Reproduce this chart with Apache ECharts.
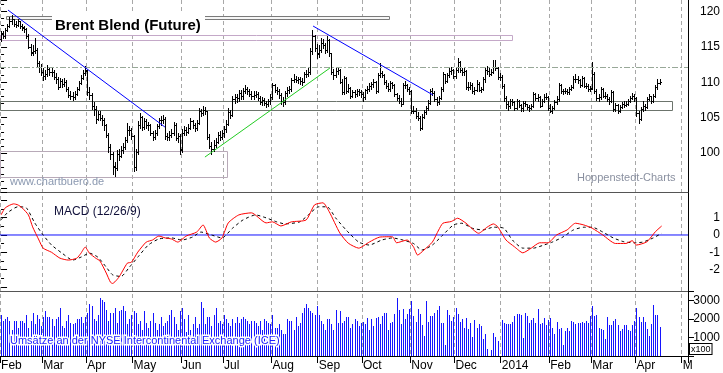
<!DOCTYPE html>
<html><head><meta charset="utf-8">
<script src="https://cdn.jsdelivr.net/npm/echarts@6/dist/echarts.min.js"></script>
<style>html,body{margin:0;padding:0;background:#fff}#c{width:723px;height:373px}</style>
</head><body><div id="c"></div>
<script>
// ---------- axis categories ----------
const startDay = '2013-02-01';
const endDay = '2014-05-05';
const monthTickLabels = ['Feb','Mar','Apr','May','Jun','Jul','Aug','Sep','Oct','Nov','Dec','2014','Feb','Mar','Apr','M'];

// ---------- price (OHLC) ----------
const open = [
116.1,116.9,116.5,117.4,117.9,118.6,118.9,118.3,118.1,118.6,117.9,117.8,117.5,116.6,115.0,114.3,114.4,114.6,112.7,112.1,
111.4,110.9,111.2,111.9,111.4,111.5,110.8,110.4,109.4,110.2,109.8,110.0,109.0,108.2,108.0,107.9,108.3,109.0,109.9,110.6,111.3,
111.6,108.6,108.2,106.6,106.2,104.8,105.5,105.0,104.6,103.9,102.5,100.8,99.8,98.1,97.9,99.9,99.6,100.4,100.8,101.8,103.3,103.2,
102.4,98.0,100.2,104.0,105.1,103.7,104.5,103.9,103.9,102.8,102.3,102.8,103.8,104.6,104.6,104.8,102.4,102.3,102.6,102.8,103.9,102.1,102.4,
100.5,102.8,103.2,103.0,103.6,104.5,103.9,103.5,104.3,105.9,105.6,106.1,105.9,102.3,101.0,100.6,101.2,101.6,102.6,102.3,
102.9,103.4,104.1,105.8,105.4,107.6,107.9,107.8,108.5,108.0,108.8,109.0,108.7,108.4,108.1,108.2,108.4,107.8,107.2,107.5,107.1,106.9,107.3,
107.9,109.6,108.9,108.7,108.2,107.3,107.2,108.5,108.9,109.0,110.3,110.5,110.3,110.4,110.2,110.1,111.2,111.1,111.5,114.4,116.6,114.9,
114.0,114.6,115.6,115.2,114.5,116.0,114.1,111.5,111.0,111.6,111.7,110.1,108.6,110.6,108.8,109.2,108.1,108.6,108.3,108.7,108.6,
108.4,107.9,108.9,109.1,109.5,109.7,110.1,108.8,111.0,111.3,111.0,110.0,109.5,109.0,109.9,109.6,108.3,107.8,107.3,107.0,109.6,109.6,109.0,
108.7,106.0,106.0,105.3,104.9,103.6,105.1,105.8,106.3,107.1,108.8,108.5,107.7,107.2,107.8,109.0,111.1,110.2,111.0,111.6,111.7,
110.9,111.8,112.8,111.7,111.4,111.6,109.4,109.4,109.6,108.7,108.9,109.8,108.9,109.0,110.4,111.7,111.6,111.2,111.5,112.2,112.0,110.7,
110.8,109.5,107.8,106.9,106.7,107.4,107.2,106.4,107.3,106.8,106.3,107.1,106.9,106.5,106.4,106.7,108.3,107.8,107.9,106.7,107.4,107.9,107.9,
106.4,106.0,106.4,107.2,107.6,109.6,108.7,108.7,108.8,108.6,109.1,109.3,110.5,110.5,110.3,109.6,110.6,109.5,109.5,109.0,
109.2,111.2,108.8,107.8,107.9,109.0,108.1,108.1,107.6,107.4,108.6,106.2,106.8,105.9,106.5,106.9,106.8,107.0,107.4,107.8,108.1,
107.8,105.6,104.8,106.2,106.7,106.5,107.7,108.0,107.3,108.1,109.3,109.9
];
const high = [
117.2,117.3,117.7,118.3,119.2,119.5,119.0,118.7,119.0,118.7,118.3,118.0,117.7,116.8,115.4,115.2,116.2,114.8,113.0,112.6,
112.0,111.8,112.4,112.2,112.1,111.7,111.3,110.7,110.6,110.5,110.6,110.3,109.3,108.7,108.6,108.8,109.4,110.2,111.0,111.7,112.3,
111.8,109.3,108.5,107.2,106.6,106.0,105.9,105.4,104.9,104.1,102.8,101.3,100.1,98.7,100.4,100.6,101.0,101.4,102.3,104.2,103.8,103.5,
102.6,100.6,104.5,105.7,105.3,104.9,104.8,104.4,104.1,103.1,103.2,104.1,104.9,105.2,105.4,105.1,102.9,103.1,103.4,104.4,104.2,102.8,102.7,
103.4,103.8,103.7,104.1,104.9,104.7,104.2,104.7,106.3,106.2,106.6,106.5,106.0,102.7,101.6,101.8,102.1,103.0,103.1,103.3,
103.8,104.6,106.4,106.1,108.1,108.4,108.3,108.9,108.9,109.2,109.6,109.4,109.0,108.7,108.7,108.8,108.6,108.1,107.9,107.8,107.4,107.7,108.3,
109.9,109.8,109.3,109.0,108.5,107.9,108.8,109.3,109.5,110.6,111.1,110.9,110.8,110.7,110.6,111.5,111.7,112.1,114.9,117.4,116.7,115.4,
115.2,116.2,116.1,115.6,116.5,116.1,114.2,111.9,112.1,112.2,111.9,110.4,110.9,110.8,109.7,109.3,108.9,108.9,109.1,109.0,108.9,
108.6,109.1,109.5,109.9,110.1,110.5,110.2,111.3,112.7,111.6,111.2,110.3,109.9,110.2,110.1,109.8,108.5,108.2,107.8,109.9,110.2,109.8,109.3,
108.9,106.6,106.4,105.8,105.2,105.5,106.1,106.7,107.5,109.1,109.2,108.7,107.9,108.1,109.3,111.4,111.2,111.3,112.0,112.2,111.9,
112.1,113.5,113.0,112.0,112.0,111.8,110.0,110.1,109.9,109.3,110.3,110.1,109.4,110.8,112.0,112.3,112.0,111.9,113.2,113.1,112.2,111.3,
111.0,109.8,108.1,107.4,107.7,107.6,107.4,107.6,107.5,107.0,107.4,107.4,107.0,106.8,107.0,108.6,108.5,108.4,108.0,107.7,108.3,108.5,108.0,
106.9,106.7,107.5,108.0,109.9,109.8,109.1,109.2,109.1,109.4,109.6,110.9,111.2,110.9,110.5,110.9,110.7,109.9,109.8,109.5,
112.8,111.4,109.1,108.4,109.4,109.2,108.6,108.3,107.9,108.9,108.7,107.1,106.9,106.8,107.2,107.3,107.4,107.6,108.1,108.5,108.3,
107.9,106.0,106.5,107.3,107.0,107.9,108.3,108.1,108.4,109.6,110.5,110.4
];
const low = [
115.9,116.2,116.3,117.2,117.8,118.3,118.0,117.8,117.9,117.7,117.4,117.1,116.3,114.8,113.9,113.8,114.2,112.2,111.5,111.0,
110.3,110.4,110.9,111.0,110.9,110.5,109.9,109.0,109.3,109.4,109.5,108.8,107.9,107.6,107.5,107.7,108.2,108.9,109.7,110.4,111.0,
108.2,107.6,106.2,105.4,104.3,104.6,104.6,104.0,103.3,102.3,100.2,99.1,97.1,96.8,97.6,99.0,99.4,100.0,100.6,101.5,102.5,102.0,
97.4,97.6,99.9,103.6,103.2,103.4,103.6,103.3,102.5,101.9,102.0,102.5,103.5,104.0,104.2,102.0,101.8,101.9,102.3,102.5,101.8,101.6,99.9,
100.2,102.5,102.6,102.8,103.4,103.6,103.1,103.3,104.1,105.2,105.4,105.5,102.0,100.7,99.8,100.3,100.9,101.4,101.9,102.0,
102.3,103.0,103.9,104.9,105.2,107.1,107.2,107.4,107.6,107.7,108.5,108.3,108.1,107.7,107.6,107.9,107.5,106.9,106.8,106.8,106.5,106.6,107.0,
107.6,108.6,108.3,107.8,106.9,106.6,107.0,108.1,108.5,108.8,110.0,110.0,109.9,109.8,109.6,110.0,110.7,110.9,111.2,114.0,114.4,113.4,
113.6,114.3,114.8,114.2,114.3,113.7,111.2,110.5,110.8,111.2,109.9,108.3,108.4,108.5,108.6,107.8,107.9,107.9,108.1,108.2,107.9,
107.3,107.6,108.5,108.8,109.1,109.4,108.5,108.6,110.7,110.7,109.7,109.2,108.7,108.8,109.2,108.1,107.5,107.1,106.6,106.9,109.2,108.7,108.3,
105.6,105.6,104.9,104.6,103.2,103.4,104.9,105.5,106.1,107.0,108.2,107.3,106.8,107.0,107.7,108.8,109.9,110.1,110.8,111.2,110.6,
110.6,111.5,111.4,111.0,111.0,109.1,108.9,109.1,108.5,108.4,108.7,108.7,108.6,108.9,110.1,111.2,110.9,111.0,111.3,111.7,110.5,110.3,
109.2,107.4,106.4,106.1,106.4,106.8,106.1,106.2,106.5,105.9,106.0,106.6,106.2,106.0,106.2,106.5,107.5,107.4,106.5,106.6,107.2,107.6,106.1,
105.8,105.7,106.2,107.0,107.4,108.5,108.4,108.5,108.3,108.4,108.9,109.2,110.1,109.9,109.4,109.5,109.3,109.2,108.7,108.7,
109.0,108.5,107.5,107.4,107.7,107.9,107.8,107.3,107.0,107.2,106.0,106.0,105.6,105.8,106.3,106.5,106.6,106.8,107.2,107.6,107.4,
105.3,104.3,104.7,106.0,106.1,106.3,107.5,107.1,107.2,107.9,109.0,109.7
];
const close = [
116.8,116.6,117.4,117.9,118.7,118.9,118.2,118.1,118.6,117.9,117.7,117.5,116.6,115.0,114.2,114.4,114.6,112.7,112.1,111.4,
110.9,111.2,111.9,111.4,111.5,110.8,110.4,109.4,110.2,109.8,110.0,109.0,108.2,108.0,107.9,108.3,109.0,109.9,110.6,111.3,111.8,
108.6,108.2,106.6,106.2,104.8,105.5,105.0,104.6,103.9,102.6,100.8,99.8,98.0,97.9,99.9,99.6,100.4,100.8,101.8,103.3,103.2,102.4,
98.0,100.2,104.0,105.1,103.7,104.5,103.9,103.9,102.8,102.3,102.8,103.8,104.6,104.6,104.8,102.4,102.3,102.6,102.8,103.9,102.1,102.4,100.4,
102.8,103.2,103.0,103.6,104.5,103.9,103.5,104.3,105.9,105.6,106.1,105.9,102.3,101.0,100.6,101.2,101.6,102.6,102.3,102.9,
103.4,104.1,105.8,105.4,107.6,107.9,107.8,108.5,108.0,108.8,109.0,108.7,108.4,108.1,108.2,108.4,107.8,107.2,107.5,107.1,106.9,107.3,107.9,
109.6,108.9,108.7,108.2,107.3,107.2,108.5,108.9,109.0,110.3,110.5,110.3,110.4,110.2,110.1,111.2,111.1,111.5,114.4,116.6,114.9,114.1,
114.6,115.6,115.2,114.5,116.0,114.1,111.5,111.0,111.6,111.7,110.1,108.6,110.6,108.8,109.2,108.1,108.6,108.3,108.7,108.6,108.4,
107.9,108.9,109.1,109.5,109.7,110.1,108.8,111.0,111.3,111.0,110.0,109.5,109.0,109.9,109.6,108.3,107.8,107.3,107.0,109.6,109.6,109.0,108.8,
106.0,106.0,105.3,104.9,103.6,105.1,105.8,106.3,107.1,108.8,108.5,107.7,107.2,107.8,109.0,111.1,110.2,111.0,111.6,111.7,110.9,
111.8,112.8,111.7,111.4,111.6,109.4,109.4,109.6,108.7,108.9,109.8,108.9,109.0,110.4,111.7,111.6,111.2,111.5,112.2,112.0,110.7,110.8,
109.5,107.8,106.9,106.7,107.4,107.2,106.4,107.3,106.8,106.3,107.1,106.9,106.5,106.4,106.7,108.3,107.8,107.9,106.7,107.4,107.9,107.9,106.4,
106.0,106.4,107.2,107.6,109.6,108.7,108.7,108.8,108.6,109.1,109.3,110.5,110.5,110.3,109.6,110.6,109.5,109.5,109.0,109.1,
111.2,108.8,107.8,107.9,109.0,108.1,108.1,107.6,107.4,108.6,106.2,106.8,105.9,106.5,106.9,106.8,107.0,107.4,107.8,108.1,107.8,
105.6,104.8,106.2,106.7,106.5,107.7,108.0,107.3,108.1,109.3,109.9,110.1
];

// ---------- volume (x100) ----------
const volume = [
2200,1900,2000,2100,1900,1400,1900,1900,1500,1900,1900,1800,2200,1500,1900,2300,1700,2200,2000,1600,
2100,2400,2100,2100,2000,1600,2000,2100,2600,1600,1500,1900,2200,1800,1700,1800,2000,2000,2100,1800,2100,
2300,2800,2700,2000,1900,2200,3100,3000,2900,2500,1900,2300,2300,2600,1800,2400,2500,2700,2400,1700,2000,2200,
2400,2300,1700,1900,1400,2400,1800,1500,1900,2300,1800,1400,1700,2100,1600,1800,1900,2200,2500,2100,1700,1400,2400,
2600,2000,1300,2200,1400,1700,2100,1500,1700,2900,2600,1700,2100,2100,1600,2200,2600,1800,1900,1700,
2200,2000,1800,1600,2000,1800,2100,1800,2000,2100,2000,1900,1700,1900,1900,1800,1600,1900,1400,2000,1900,1800,1700,
2200,1500,1500,1700,1400,1200,1200,2000,1900,1900,1400,2100,1600,1800,2300,2600,2800,2600,2400,2300,2200,2700,
2200,1900,1700,1400,2000,2000,1700,1400,2500,1800,2400,1800,1900,2100,2100,1500,1700,2000,1900,1600,1800,
1850,1750,2050,1400,2000,1600,2050,2100,1700,2150,2300,2300,1400,1800,1850,2250,3150,2500,1700,2550,2000,2250,2550,
2950,2150,1850,2550,2250,1650,1100,2950,1850,2150,2150,2300,2500,2700,1800,1800,600,2500,2200,1900,2100,
2600,2250,1850,2000,1500,2050,1450,1800,1050,1950,1500,1750,1600,900,1200,400,0,300,1250,1050,800,0,
1950,1800,1700,1700,1700,1850,2150,2250,2250,2200,950,2300,2150,1800,1950,2050,1800,2550,1700,1800,2050,1650,1950,
2050,1500,1200,1850,1450,1500,600,1350,1500,1350,1900,1850,1700,1800,1800,1850,1800,1900,1800,2150,
2700,2150,2200,1500,1450,1400,900,2100,1650,1650,1900,2000,1650,1350,1450,1650,1650,1400,1350,1650,1900,
2600,2100,1850,2100,1850,1450,1100,1700,2750,2200,2200,1550
];

// ---------- MACD (12/26/9): [trading-day index, value] ----------
const macdLine = [[0,1.16],[2,1.57],[6,1.8],[8,1.74],[10,1.57],[13,1.16],[15,0.47],[18,-0.29],[20,-0.76],[24,-1.0],[28,-1.34],[32,-1.45],[36,-1.34],[38,-1.05],[40,-0.7],[42,-1.05],[45,-1.34],[47,-1.5],[50,-2.2],[52,-2.73],[53,-2.8],[56,-2.44],[60,-1.63],[62,-1.57],[65,-0.99],[69,-0.41],[72,-0.29],[75,-0.06],[78,-0.17],[81,-0.23],[84,-0.41],[88,-0.06],[93,0.17],[96,0.58],[99,-0.17],[102,-0.41],[105,-0.17],[108,0.7],[113,1.16],[119,1.28],[126,0.7],[129,0.76],[133,0.52],[138,0.76],[145,0.87],[149,1.74],[153,1.86],[156,1.34],[161,0.12],[165,-0.47],[170,-0.76],[175,-0.41],[180,-0.12],[186,-0.1],[188,-0.45],[193,-0.29],[196,-0.68],[198,-1.16],[201,-0.87],[205,-0.41],[208,0.29],[210,0.68],[214,0.78],[217,0.97],[221,0.68],[227,0.1],[231,0.45],[234,0.64],[236,0.49],[240,-0.29],[244,-0.68],[248,-1.03],[252,-0.76],[256,-0.45],[260,-0.45],[264,0],[269,0.29],[273,0.68],[277,0.58],[281,0.39],[286,0],[292,-0.49],[297,-0.49],[300,-0.33],[302,-0.58],[307,-0.39],[311,0.19],[314,0.52]];
const signalLine = [[0,0.87],[3,1.28],[8,1.63],[12,1.57],[16,0.7],[20,0],[24,-0.58],[29,-1.05],[34,-1.45],[38,-1.28],[42,-1.05],[46,-1.28],[50,-1.86],[53,-2.3],[57,-2.4],[61,-1.86],[65,-1.28],[70,-0.58],[75,-0.23],[81,-0.17],[86,-0.29],[91,-0.12],[95,0.17],[100,0],[105,-0.17],[110,0.39],[115,0.87],[121,1.16],[126,0.99],[131,0.76],[135,0.64],[142,0.76],[146,1.16],[151,1.63],[155,1.63],[159,0.99],[164,0.29],[170,-0.41],[175,-0.58],[181,-0.29],[186,-0.17],[191,-0.29],[196,-0.49],[200,-0.87],[205,-0.58],[210,0],[215,0.58],[219,0.68],[224,0.39],[229,0.29],[234,0.45],[239,0.39],[243,-0.29],[248,-0.76],[253,-0.76],[258,-0.58],[262,-0.41],[267,-0.12],[272,0.29],[277,0.45],[281,0.45],[286,0.17],[291,-0.17],[296,-0.39],[301,-0.45],[305,-0.41],[310,-0.17],[314,0.1]];
const macdBaseline = 0;

// ---------- analyst drawings (data coords: [dayFrom, dayTo, priceTop, priceBottom]) ----------
const resistanceBox = [2.35, 184.4, 119.36, 118.94];
const upperBox = [-0.5, 242.8, 116.68, 115.97];
const supportBox = [-0.5, 318.9, 107.35, 106.08];
const lowBox = [-0.5, 107.4, 100.28, 96.61];
const midLevel = 112.16;
const downTrend1 = [[3.3, 120.21], [77.9, 103.67]];
const downTrend2 = [[148.3, 117.95], [205.3, 108.2]];
const upTrend = [[96.9, 99.43], [156.3, 112.01]];

// ---------- build ----------
function tradingDays(from, to) {
  const out = [];
  const d = new Date(from + 'T00:00:00Z');
  const e = new Date(to + 'T00:00:00Z');
  while (d <= e) {
    const w = d.getUTCDay();
    if (w !== 0 && w !== 6) out.push(d.toISOString().slice(0, 10));
    d.setUTCDate(d.getUTCDate() + 1);
  }
  return out;
}
const categories = tradingDays(startDay, endDay);
const monthStartLabel = {};
let mi = 0;
categories.forEach((d, i) => {
  if (i === 0 || d.slice(0, 7) !== categories[i - 1].slice(0, 7)) monthStartLabel[i] = monthTickLabels[mi++];
});
const isMonthStart = (i) => monthStartLabel[i] !== undefined;
const FONT = '"Liberation Sans", Arial, sans-serif';
const xMin = -0.5, xMax = categories.length - 0.5;

function boxSeries(box, style) {
  return {
    type: 'custom', xAxisIndex: 5, yAxisIndex: 0, silent: true, z: 1,
    data: [box], encode: { x: [0, 1], y: [2, 3] },
    renderItem: (p, api) => {
      const a = api.coord([api.value(0), api.value(2)]);
      const b = api.coord([api.value(1), api.value(3)]);
      return { type: 'rect', shape: { x: Math.round(a[0]) + 0.5, y: Math.round(a[1]) + 0.5, width: Math.round(b[0] - a[0]), height: Math.round(b[1] - a[1]) }, style: style };
    }
  };
}
function trendSeries(pts, color) {
  return { type: 'line', xAxisIndex: 5, yAxisIndex: 0, data: pts, symbol: 'none', silent: true, z: 5,
    lineStyle: { color: color, width: 1 } };
}

const chart = echarts.init(document.getElementById('c'), null, { renderer: 'canvas' });
const hiddenCat = (g, extra) => Object.assign({ gridIndex: g, type: 'category', data: categories, boundaryGap: true,
  axisLine: { show: false, onZero: false }, axisTick: { show: false }, axisLabel: { show: false }, splitLine: { show: false } }, extra || {});
const sepLine = { show: true, onZero: false, lineStyle: { color: '#555', width: 1 } };

chart.setOption({
  animation: false,
  backgroundColor: '#fff',
  textStyle: { fontFamily: FONT },
  grid: [
    { left: 0, right: 35, top: 0, height: 188.4, outerBoundsMode: 'none', containLabel: false },
    { left: 0, right: 35, top: 192.6, height: 94.3, outerBoundsMode: 'none', containLabel: false },
    { left: 0, right: 35, top: 291, height: 65, outerBoundsMode: 'none', containLabel: false },
    { left: 0, right: 35, top: 0, height: 356, outerBoundsMode: 'none', containLabel: false }
  ],
  xAxis: [
    hiddenCat(0),
    hiddenCat(1, { position: 'top', axisLine: sepLine }),
    hiddenCat(2, { position: 'bottom',
      axisLine: { show: true, onZero: false, lineStyle: { color: '#000', width: 1 } },
      axisTick: { show: true, interval: (i) => isMonthStart(i), length: 7, lineStyle: { color: '#000' } },
      axisLabel: { show: true, interval: (i) => isMonthStart(i), formatter: (v, i) => monthStartLabel[i] || '',
        align: 'left', margin: 4, fontSize: 12, color: '#000', fontFamily: FONT } }),
    hiddenCat(2, { position: 'top', axisLine: sepLine }),
    hiddenCat(3, { splitLine: { show: true, interval: (i) => isMonthStart(i), lineStyle: { color: '#a8a8a8', width: 1, type: [4, 3] } } }),
    { gridIndex: 0, type: 'value', min: xMin, max: xMax, show: false },
    { gridIndex: 1, type: 'value', min: xMin, max: xMax, show: false }
  ],
  yAxis: [
    { gridIndex: 0, type: 'value', position: 'right', min: 95, max: 121.63, interval: 5,
      axisLine: { show: false }, splitLine: { show: false },
      axisTick: { show: true, length: 6, lineStyle: { color: '#000' } },
      minorTick: { show: true, splitNumber: 5, length: 3, lineStyle: { color: '#000' } },
      axisLabel: { margin: 32, align: 'right', fontSize: 12, color: '#000', fontFamily: FONT,
        formatter: (v) => (v >= 100 && v % 5 === 0) ? String(v) : '' } },
    { gridIndex: 1, type: 'value', position: 'right', min: -3, max: 2.45, interval: 1,
      axisLine: { show: false }, splitLine: { show: false },
      axisTick: { show: true, length: 6, lineStyle: { color: '#000' } },
      minorTick: { show: true, splitNumber: 2, length: 3, lineStyle: { color: '#000' } },
      axisLabel: { margin: 32, align: 'right', fontSize: 12, color: '#000', fontFamily: FONT,
        formatter: (v) => (Number.isInteger(v) && v >= -2 && v <= 1) ? String(v) : '' } },
    { gridIndex: 2, type: 'value', position: 'right', min: 0, max: 3500, interval: 1000,
      axisLine: { show: false }, splitLine: { show: false },
      axisTick: { show: true, length: 6, lineStyle: { color: '#000' } },
      axisLabel: { margin: 32, align: 'right', fontSize: 12, color: '#000', fontFamily: FONT,
        formatter: (v) => (v >= 1000 && v <= 3000) ? String(v) : '' } },
    { gridIndex: 3, type: 'value', position: 'right', min: 0, max: 1,
      axisLine: { show: true, lineStyle: { color: '#000', width: 1 } },
      axisTick: { show: false }, axisLabel: { show: false }, splitLine: { show: false } }
  ],
  series: [
    boxSeries(upperBox, { fill: 'none', stroke: '#c4a8c8', lineWidth: 1 }),
    boxSeries(supportBox, { fill: 'none', stroke: '#6c746c', lineWidth: 1 }),
    boxSeries(lowBox, { fill: 'none', stroke: '#b8aab8', lineWidth: 1 }),
    boxSeries(resistanceBox, { fill: '#f6f6f6', stroke: '#7a7a7a', lineWidth: 1 }),
    Object.assign(trendSeries(downTrend1, '#0000ff'), {
      markLine: { silent: true, symbol: ['none', 'none'], label: { show: false },
        lineStyle: { color: '#98a898', width: 1, type: [6, 2, 2, 2] }, data: [{ yAxis: midLevel }] } }),
    trendSeries(downTrend2, '#0000ff'),
    trendSeries(upTrend, '#22cc22'),
    {
      type: 'custom', name: 'Brent', xAxisIndex: 0, yAxisIndex: 0, z: 3, silent: true,
      data: close.map((c, i) => [i, open[i], high[i], low[i], c]),
      encode: { x: 0, y: [1, 2, 3, 4] },
      renderItem: (p, api) => {
        const i = api.value(0);
        const o = api.coord([i, api.value(1)]);
        const h = api.coord([i, api.value(2)]);
        const l = api.coord([i, api.value(3)]);
        const c = api.coord([i, api.value(4)]);
        const x = Math.round(h[0]) + 0.5;
        const st = { stroke: '#000', lineWidth: 1 };
        const oy = Math.round(o[1]) + 0.5, cy = Math.round(c[1]) + 0.5;
        return { type: 'group', children: [
          { type: 'line', shape: { x1: x, y1: Math.round(h[1]), x2: x, y2: Math.round(l[1]) + 1 }, style: st },
          { type: 'line', shape: { x1: x - 1.5, y1: oy, x2: x, y2: oy }, style: st },
          { type: 'line', shape: { x1: x, y1: cy, x2: x + 1.5, y2: cy }, style: st }
        ] };
      }
    },
    { type: 'line', name: 'Zero', xAxisIndex: 6, yAxisIndex: 1, silent: true, z: 2, symbol: 'none',
      data: [[xMin, macdBaseline], [xMax, macdBaseline]],
      lineStyle: { color: '#1010ff', width: 1 } },
    { type: 'line', name: 'MACD', xAxisIndex: 1, yAxisIndex: 1, data: macdLine, symbol: 'none', smooth: 0.2, silent: true, z: 4,
      lineStyle: { color: '#ff0000', width: 1 } },
    { type: 'line', name: 'Signal', xAxisIndex: 1, yAxisIndex: 1, data: signalLine, symbol: 'none', smooth: 0.2, silent: true, z: 3,
      lineStyle: { color: '#000', width: 1, type: [3, 3] } },
    {
      type: 'custom', name: 'Volume', xAxisIndex: 2, yAxisIndex: 2, silent: true, z: 2,
      data: volume.map((v, i) => [i, v]), encode: { x: 0, y: 1 },
      renderItem: (p, api) => {
        const i = api.value(0);
        const b = api.coord([i, 0]);
        const t = api.coord([i, api.value(1)]);
        const x = Math.round(b[0]) + 0.5;
        return { type: 'line', shape: { x1: x, y1: Math.round(t[1]), x2: x, y2: Math.round(b[1]) },
          style: { stroke: '#1414ff', lineWidth: 1, fill: null } };
      }
    }
  ],
  graphic: [
    { type: 'rect', shape: { x: 52, y: 13, width: 153, height: 20 }, style: { fill: '#fff' }, z: 100 },
    { type: 'text', x: 55, y: 26, z: 101, style: { text: 'Brent Blend (Future)', fontFamily: FONT, fontWeight: 'bold', fontSize: 15,
      fill: '#000', verticalAlign: 'middle', textShadowColor: '#777', textShadowOffsetX: 1, textShadowOffsetY: 1 } },
    { type: 'text', x: 54, y: 212, z: 101, style: { text: 'MACD (12/26/9)', fontFamily: FONT, fontSize: 12, fill: '#10103a', verticalAlign: 'middle' } },
    { type: 'text', x: 10, y: 182, z: 101, style: { text: 'www.chartbuero.de', fontFamily: FONT, fontSize: 11, fill: '#8a98b0', verticalAlign: 'middle' } },
    { type: 'text', x: 577, y: 178, z: 101, style: { text: 'Hoppenstedt-Charts', fontFamily: FONT, fontSize: 11, fill: '#8a90a0', verticalAlign: 'middle' } },
    { type: 'text', x: 10, y: 341, z: 100, style: { text: 'Umsätze an der NYSE Intercontinental Exchange (ICE)', fontFamily: FONT, fontSize: 11,
      fill: '#fff', stroke: '#fff', lineWidth: 3, verticalAlign: 'middle' } },
    { type: 'text', x: 10, y: 341, z: 101, style: { text: 'Umsätze an der NYSE Intercontinental Exchange (ICE)', fontFamily: FONT, fontSize: 11,
      fill: '#2222ff', verticalAlign: 'middle' } },
    { type: 'text', x: 690, y: 344, z: 101, style: { text: 'x100', fontFamily: FONT, fontSize: 9, fill: '#000',
      backgroundColor: '#fff', borderColor: '#000', borderWidth: 1, padding: [1, 1, 0, 1] } }
  ]
});
</script></body></html>
